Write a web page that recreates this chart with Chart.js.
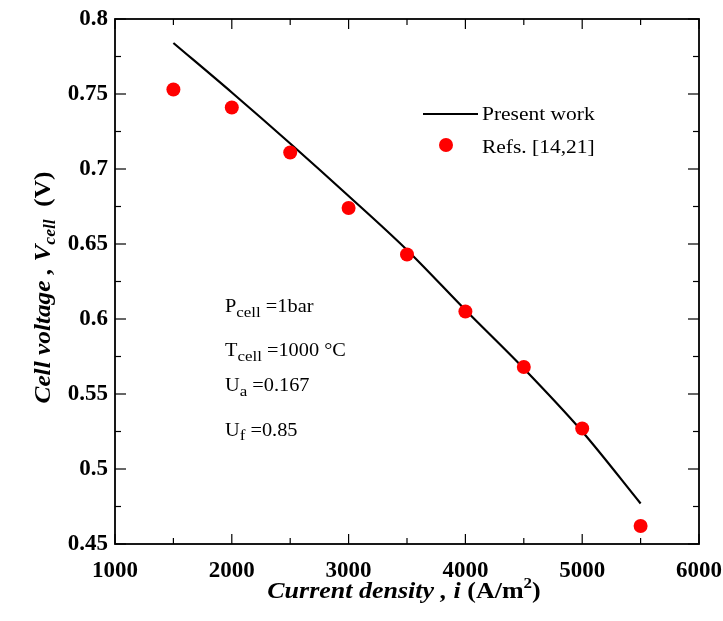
<!DOCTYPE html>
<html>
<head>
<meta charset="utf-8">
<script src="https://cdn.jsdelivr.net/npm/chart.js@4.4.1/dist/chart.umd.min.js"></script>
<style>
  html,body{margin:0;padding:0;background:#fff;}
  #wrap{width:723px;height:621px;}
</style>
</head>
<body>
<div id="wrap"><canvas id="c" width="723" height="621"></canvas></div>
<script>
// ---- data ----
const currentDensity = [1500, 2000, 2500, 3000, 3500, 4000, 4500, 5000, 5500];
const presentWork    = [0.784, 0.751, 0.717, 0.682, 0.646, 0.606, 0.567, 0.525, 0.477];
const refsData       = [0.753, 0.741, 0.711, 0.674, 0.643, 0.605, 0.568, 0.527, 0.462];
const xMajorTicks = [1000, 2000, 3000, 4000, 5000, 6000];
const yMajorTicks = [0.45, 0.5, 0.55, 0.6, 0.65, 0.7, 0.75, 0.8];
const legendLabels = ['Present work', 'Refs. [14,21]'];

const SERIF = '"Liberation Serif", "Times New Roman", serif';

function isMajor(v, list){ return list.some(m => Math.abs(m - v) < 1e-6); }

function richWidth(ctx, segs, sx){
  let w = 0;
  segs.forEach(s => { ctx.font = s.font; w += ctx.measureText(s.t).width; });
  return w * sx;
}
function drawRich(ctx, x, y, segs, sx, align){
  const w = richWidth(ctx, segs, sx);
  let x0 = x;
  if (align === 'center') x0 = x - w / 2;
  ctx.save();
  ctx.translate(x0, y);
  ctx.scale(sx, 1);
  let cx = 0;
  segs.forEach(s => {
    ctx.font = s.font;
    ctx.fillText(s.t, cx, s.dy || 0);
    cx += ctx.measureText(s.t).width;
  });
  ctx.restore();
}

const decor = {
  id: 'decor',
  afterDatasetsDraw(chart){
    const {ctx, chartArea: {left, right, top, bottom}, scales: {x, y}} = chart;
    ctx.save();
    ctx.strokeStyle = '#000';
    ctx.lineWidth = 1.2;
    const seg = (x1, y1, x2, y2) => { ctx.beginPath(); ctx.moveTo(x1, y1); ctx.lineTo(x2, y2); ctx.stroke(); };
    x.ticks.forEach(t => {
      const px = x.getPixelForValue(t.value);
      const len = isMajor(t.value, xMajorTicks) ? 10 : 6;
      seg(px, bottom, px, bottom - len);
      seg(px, top, px, top + len);
    });
    y.ticks.forEach(t => {
      const py = y.getPixelForValue(t.value);
      const len = isMajor(t.value, yMajorTicks) ? 11 : 6;
      seg(left, py, left + len, py);
      seg(right, py, right - len, py);
    });
    ctx.lineWidth = 1.8;
    ctx.strokeRect(left, top, right - left, bottom - top);

    ctx.fillStyle = '#000';
    ctx.textBaseline = 'alphabetic';
    // legend
    ctx.lineWidth = 2.2;
    seg(423, 114, 478, 114);
    drawRich(ctx, 482, 120, [{t: legendLabels[0], font: '19px ' + SERIF}], 1.13, 'left');
    ctx.fillStyle = '#ff0000';
    ctx.beginPath(); ctx.arc(446, 145, 7, 0, Math.PI * 2); ctx.fill();
    ctx.fillStyle = '#000';
    drawRich(ctx, 482, 153, [{t: legendLabels[1], font: '19px ' + SERIF}], 1.13, 'left');

    // annotations
    const main = '18px ' + SERIF, sub = '15px ' + SERIF;
    drawRich(ctx, 225, 312, [{t: 'P', font: main}, {t: 'cell', font: sub, dy: 5}, {t: ' =1bar', font: main}], 1.13, 'left');
    drawRich(ctx, 225, 356, [{t: 'T', font: main}, {t: 'cell', font: sub, dy: 5}, {t: ' =1000 \u00B0C', font: main}], 1.13, 'left');
    drawRich(ctx, 225, 391, [{t: 'U', font: main}, {t: 'a', font: sub, dy: 5}, {t: ' =0.167', font: main}], 1.13, 'left');
    drawRich(ctx, 225, 436, [{t: 'U', font: main}, {t: 'f', font: sub, dy: 4}, {t: ' =0.85', font: main}], 1.13, 'left');

    // x axis title
    const bi = 'italic bold 23px ' + SERIF, b = 'bold 23px ' + SERIF;
    drawRich(ctx, 404, 598, [
      {t: 'Current density , ', font: bi},
      {t: 'i', font: bi},
      {t: ' (A/m', font: b},
      {t: '2', font: 'bold 15px ' + SERIF, dy: -10},
      {t: ')', font: b}
    ], 1.13, 'center');

    // y axis title
    ctx.save();
    ctx.translate(50, (top + bottom) / 2 + 6);
    ctx.rotate(-Math.PI / 2);
    drawRich(ctx, 0, 0, [
      {t: 'Cell voltage , ', font: bi},
      {t: 'V', font: bi},
      {t: 'cell', font: 'italic bold 16px ' + SERIF, dy: 5},
      {t: '  (V)', font: b}
    ], 1.1, 'center');
    ctx.restore();
    ctx.restore();
  }
};

new Chart(document.getElementById('c'), {
  type: 'scatter',
  data: {
    datasets: [
      {
        type: 'line',
        label: legendLabels[0],
        data: currentDensity.map((v, i) => ({x: v, y: presentWork[i]})),
        borderColor: '#000',
        borderWidth: 2.2,
        pointRadius: 0,
        fill: false,
        cubicInterpolationMode: 'monotone',
        order: 2
      },
      {
        label: legendLabels[1],
        data: currentDensity.map((v, i) => ({x: v, y: refsData[i]})),
        backgroundColor: '#ff0000',
        borderWidth: 0,
        pointRadius: 7,
        order: 1
      }
    ]
  },
  options: {
    responsive: false,
    animation: false,
    devicePixelRatio: 1,
    layout: {padding: {top: 19, right: 24, left: 0, bottom: 0}},
    plugins: {legend: {display: false}, tooltip: {enabled: false}},
    scales: {
      x: {
        type: 'linear', min: 1000, max: 6000,
        grid: {display: false, drawTicks: false},
        border: {display: false},
        ticks: {
          stepSize: 500, autoSkip: false, maxRotation: 0, padding: 13,
          color: '#000', font: {family: SERIF, size: 23, weight: 'bold'},
          callback: v => isMajor(v, xMajorTicks) ? String(Math.round(v)) : ''
        },
        afterFit: s => { s.height = 77; s.paddingRight = 0; s.paddingLeft = 0; }
      },
      y: {
        min: 0.45, max: 0.8,
        grid: {display: false, drawTicks: false},
        border: {display: false},
        ticks: {
          stepSize: 0.025, autoSkip: false, padding: 7,
          color: '#000', font: {family: SERIF, size: 23, weight: 'bold'},
          callback: v => isMajor(v, yMajorTicks) ? String(Number(v.toFixed(3))) : ''
        },
        afterFit: s => { s.width = 115; s.paddingTop = 0; s.paddingBottom = 0; }
      }
    }
  },
  plugins: [decor]
});
</script>
</body>
</html>
